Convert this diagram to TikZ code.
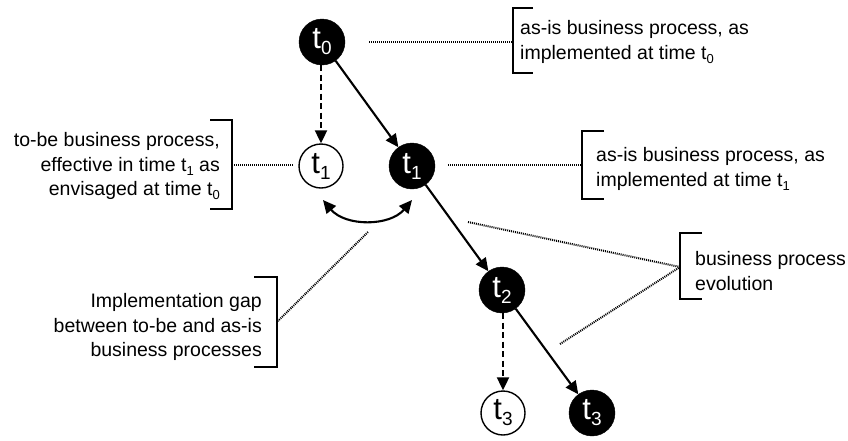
\documentclass[tikz,border=0pt]{standalone}
\usepackage{fontspec}
\setmainfont{Liberation Sans}
\usetikzlibrary{arrows.meta}

% subscripts inside the time-point circles and inside the side notes
\newcommand\nodesub[1]{\raisebox{-6pt}{\fontsize{19}{19}\selectfont #1}}
\newcommand\notesub[1]{\raisebox{-4pt}{\fontsize{13}{13}\selectfont #1}}
\newcommand\tp[1]{\fontsize{31}{32}\selectfont t\nodesub{#1}}

\tikzset{
  asis/.style={circle, fill=black, draw=black, minimum size=46pt, inner sep=0pt,
               text=white},
  tobe/.style={circle, fill=white, draw=black, line width=1.4pt, minimum size=44pt,
               inner sep=0pt},
  evol/.style={line width=2.1pt, -{Triangle[length=13pt,width=12pt]}},
  plan/.style={line width=2.1pt, dash pattern=on 6pt off 3.5pt,
               -{Triangle[length=13pt,width=12pt]}},
  gaparrow/.style={line width=2.1pt, {Triangle[length=13pt,width=12pt]}-{Triangle[length=13pt,width=12pt]}},
  leader/.style={line width=2pt, dash pattern=on 1pt off 1pt},
  brace/.style={line width=1.4pt},
  note/.style={font=\fontsize{19.5}{24.5}\selectfont, inner sep=0pt},
}

\begin{document}
\begin{tikzpicture}[x=1pt,y=-1pt]
\useasboundingbox (0,0) rectangle (848,440);

% time points
\node[asis] (a0) at (322,42)  {\tp{0}};
\node[tobe] (p1) at (321,166) {\tp{1}};
\node[asis] (a1) at (412,166) {\tp{1}};
\node[asis] (a2) at (502,290) {\tp{2}};
\node[tobe] (p3) at (503,413) {\tp{3}};
\node[asis] (a3) at (592,413) {\tp{3}};

% evolution of the implemented process
\draw[evol] (a0) -- (a1);
\draw[evol] (a1) -- (a2);
\draw[evol] (a2) -- (a3);

% planned (to-be) processes
\draw[plan] (a0.south -| p1) -- (p1.north);
\draw[plan] (a2.south -| p3) -- (p3.north);

% implementation gap
\coordinate (gl) at (323,200);
\coordinate (gr) at (412,200);
\draw[gaparrow] (gl) to[bend right=50] (gr);

% side notes with their brackets
\node[note, anchor=west, align=left] (n0) at (520,42)
  {as-is business process, as\\implemented at time t\notesub{0}};
\draw[brace] (533,8) -- (513,8) -- (513,73) -- (533,73);
\coordinate (n0b) at (513,42);
\coordinate (n0s) at (369,42);
\draw[leader] (n0s) -- (n0b);

\node[note, anchor=east, align=right] (np) at (220,166)
  {to-be business process,\\effective in time t\notesub{1} as\\envisaged at time t\notesub{0}};
\draw[brace] (210,120) -- (232,120) -- (232,209) -- (210,209);
\coordinate (npb) at (232,165);
\coordinate (nps) at (293,165);
\draw[leader] (npb) -- (nps);

\node[note, anchor=west, align=left] (n1) at (596,169)
  {as-is business process, as\\implemented at time t\notesub{1}};
\draw[brace] (604,131) -- (582,131) -- (582,199) -- (604,199);
\coordinate (n1b) at (582,165);
\coordinate (n1s) at (448,165);
\draw[leader] (n1s) -- (n1b);

\node[note, anchor=west, align=left] (ne) at (695,271)
  {business process\\evolution};
\draw[brace] (702,233) -- (680,233) -- (680,299) -- (702,299);
\coordinate (neb) at (680,267);
\coordinate (nes1) at (468,222);
\coordinate (nes2) at (560,344);
\draw[leader] (nes1) -- (neb);
\draw[leader] (nes2) -- (neb);

\node[note, anchor=east, align=right] (ng) at (262,327)
  {Implementation gap\\between to-be and as-is\\business processes};
\draw[brace] (254,277) -- (277,277) -- (277,367) -- (254,367);
\coordinate (ngb) at (278,321);
\coordinate (ngs) at (368,232);
\draw[leader] (ngs) -- (ngb);
\end{tikzpicture}
\end{document}
